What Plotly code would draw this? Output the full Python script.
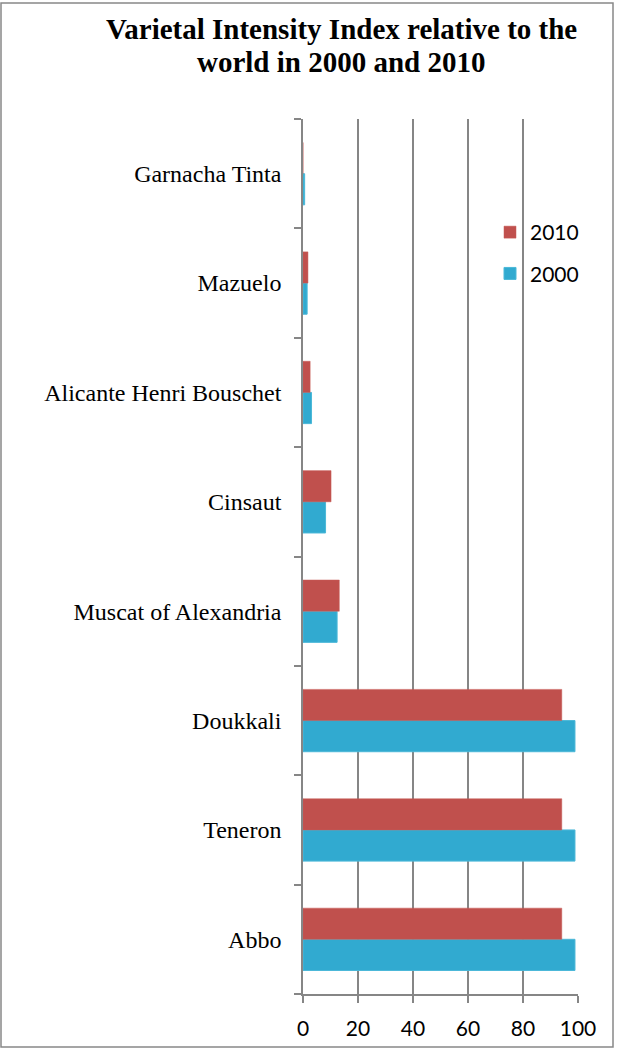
import plotly.graph_objects as go

# Data (bottom-up order, as plotly draws categories)
varieties = ['Abbo', 'Teneron', 'Doukkali', 'Muscat of Alexandria', 'Cinsaut',
             'Alicante Henri Bouschet', 'Mazuelo', 'Garnacha Tinta']
vals_2000 = [98.9, 98.9, 98.9, 12.4, 8.2, 3.1, 1.5, 0.6]
vals_2010 = [94.1, 94.1, 94.1, 13.2, 10.2, 2.6, 1.8, 0.0]
x_ticks   = [0, 20, 40, 60, 80, 100]
title_lines = ['Varietal Intensity Index relative to the', 'world in 2000 and 2010']

W, H = 619, 1048
L, R, T, B = 303, 41, 119, 54

def px_x(p):
    return (p - L) / (W - L - R)

def px_y(p):
    return (H - B - p) / (H - T - B)

fig = go.Figure()

fig.add_trace(go.Bar(
    y=varieties, x=vals_2000, name='2000', orientation='h',
    marker=dict(color='#31AAD0', line=dict(color='#4BB8D8', width=1)),
    legendgroup='a', legendrank=2
))
fig.add_trace(go.Bar(
    y=varieties, x=vals_2010, name='2010', orientation='h',
    marker=dict(color='#C0504D', line=dict(color='#C65A57', width=0.5)),
    legendgroup='b', legendrank=1
))

# title as two lines, placed separately for tighter spacing
title_notes = [
    dict(text='<b>%s</b>' % line, xref='paper', yref='paper',
         x=px_x(341), y=px_y(yc), xanchor='center', yanchor='middle',
         showarrow=False,
         font=dict(family='Liberation Serif', size=29, color='black'))
    for line, yc in zip(title_lines, [29, 62])
]

fig.update_layout(
    width=W, height=H,
    margin=dict(l=L, r=R, t=T, b=B, autoexpand=False),
    paper_bgcolor='white', plot_bgcolor='white',
    barmode='group', bargap=0.43, bargroupgap=0,
    legend=dict(
        x=px_x(490), y=px_y(212), xanchor='left', yanchor='top',
        bgcolor='rgba(0,0,0,0)', traceorder='grouped',
        tracegroupgap=11,
        font=dict(family='Lato', size=21, color='black')
    ),
    xaxis=dict(
        range=[0, 100], tickvals=x_ticks, showgrid=True, automargin=False,
        gridcolor='#868686', gridwidth=1.5,
        showline=True, linecolor='#868686', linewidth=1.5,
        ticks='outside', ticklen=7, tickcolor='#868686', tickwidth=1.5,
        ticklabelstandoff=8,
        tickfont=dict(family='Lato', size=21, color='black'),
        zeroline=False
    ),
    yaxis=dict(
        automargin=False,
        showline=True, linecolor='#868686', linewidth=1.5,
        ticks='outside', ticklen=7, tickcolor='#868686', tickwidth=1.5,
        tickson='boundaries', ticklabelstandoff=15,
        tickfont=dict(family='Liberation Serif', size=24, color='black'),
        showgrid=False
    ),
    annotations=title_notes,
    shapes=[dict(
        type='rect', xref='paper', yref='paper',
        x0=px_x(1), x1=px_x(613), y0=px_y(1047), y1=px_y(3),
        line=dict(color='#888888', width=1.5), fillcolor='rgba(0,0,0,0)'
    )]
)

# page body has an 8px default margin; drop it so the chart sits at the corner
fig.write_html("out.html", config={'displayModeBar': False},
               post_script="document.body.style.margin='0';")
